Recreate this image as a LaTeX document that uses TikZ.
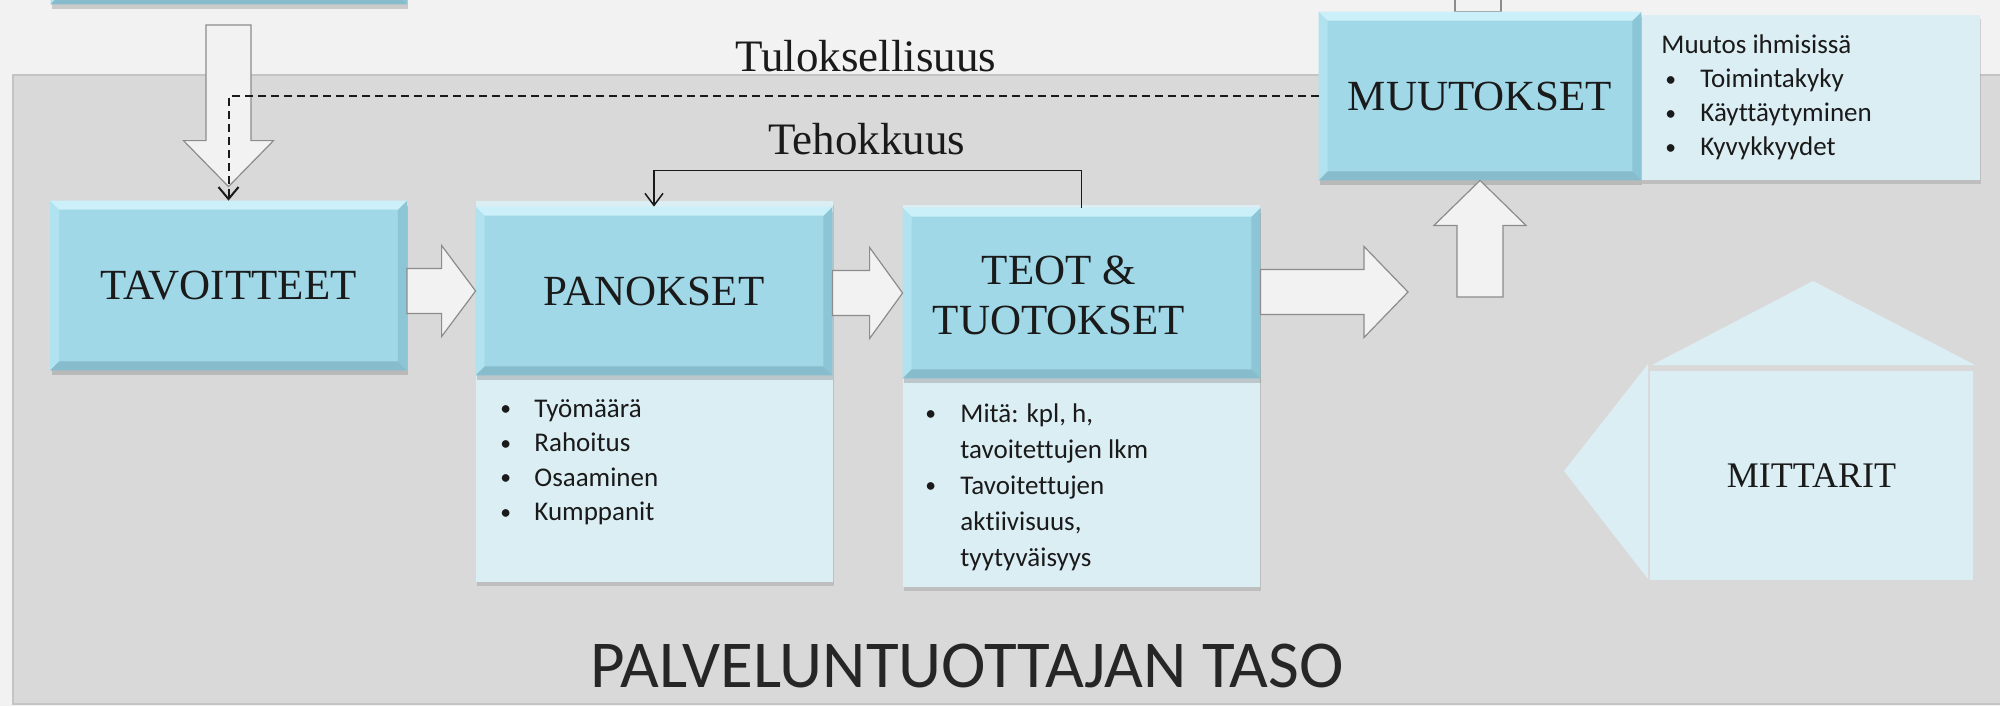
\documentclass[tikz,border=0pt]{standalone}
\usepackage{fontspec}
\usepackage{graphicx}
\setmainfont{Liberation Serif}
\newfontfamily\calibri[Ligatures={NoCommon}]{Carlito}
\usetikzlibrary{calc,shadows,arrows.meta}
\definecolor{bgtop}{HTML}{F2F2F2}
\definecolor{region}{HTML}{D9D9D9}
\definecolor{regionedge}{HTML}{C4C4C4}
\definecolor{boxblue}{HTML}{A0D8E8}
\definecolor{bevtop}{HTML}{CBF0F9}
\definecolor{bevleft}{HTML}{B0E2EF}
\definecolor{bevright}{HTML}{8CC6D6}
\definecolor{bevbot}{HTML}{86BCCB}
\definecolor{panel}{HTML}{DBEEF4}
\definecolor{arrowfill}{HTML}{F2F2F2}
\definecolor{arrowedge}{HTML}{8C8C8C}
\definecolor{ink}{HTML}{1A1A1A}
\tikzset{
  bluebox/.style={fill=boxblue, inner sep=0pt, align=center, text=ink,
    font=\fontsize{21.5pt}{25pt}\selectfont,
    drop shadow={shadow xshift=0.5pt, shadow yshift=-2.5pt, opacity=0.35}},
  panelbox/.style={fill=panel, inner sep=0pt,
    drop shadow={shadow xshift=0.5pt, shadow yshift=-2pt, opacity=0.3}},
  blockarrow/.style={fill=arrowfill, draw=arrowedge, line width=0.6pt, line join=miter},
  listtext/.style={inner sep=0pt, anchor=base west, text=ink},
  titletext/.style={inner sep=0pt, anchor=base, text=ink, font=\fontsize{22.5pt}{26pt}\selectfont},
}
\newcommand\blt{\raisebox{0.6pt}{\scalebox{0.8}{•}}}
\newcommand\boxbevel[1]{%
  \fill[bevleft] (#1.north west) -- ([xshift=4.5pt,yshift=-4.5pt]#1.north west) -- ([xshift=4.5pt,yshift=4.5pt]#1.south west) -- (#1.south west) -- cycle;
  \fill[bevright] (#1.north east) -- ([xshift=-4.5pt,yshift=-4.5pt]#1.north east) -- ([xshift=-4.5pt,yshift=4.5pt]#1.south east) -- (#1.south east) -- cycle;
  \fill[bevtop] (#1.north west) -- (#1.north east) -- ([xshift=-4.5pt,yshift=-4.5pt]#1.north east) -- ([xshift=4.5pt,yshift=-4.5pt]#1.north west) -- cycle;
  \fill[bevbot] (#1.south west) -- (#1.south east) -- ([xshift=-4.5pt,yshift=4.5pt]#1.south east) -- ([xshift=4.5pt,yshift=4.5pt]#1.south west) -- cycle;
}
\newcommand\hblock[3]{%
  \draw[blockarrow] let \p1=(#1), \p2=(#2) in
    ({\x1},{\y2+11.25pt}) -- ({\x2-#3},{\y2+11.25pt}) -- ({\x2-#3},{\y2+22.75pt}) -- (\p2)
    -- ({\x2-#3},{\y2-22.75pt}) -- ({\x2-#3},{\y2-11.25pt}) -- ({\x1},{\y2-11.25pt}) -- cycle;
}
\newcommand\vblock[5]{%
  \draw[blockarrow] let \p1=(#1), \p2=(#2) in
    ({\x2-#3},{\y1}) -- ({\x2-#3},{\y2-(#5)}) -- ({\x2-#4},{\y2-(#5)}) -- (\p2)
    -- ({\x2+#4},{\y2-(#5)}) -- ({\x2+#3},{\y2-(#5)}) -- ({\x2+#3},{\y1}) -- cycle;
}
\begin{document}
\begin{tikzpicture}[x=0.5pt,y=-0.5pt]
\useasboundingbox (0,0) rectangle (2000,706);
\fill[bgtop] (0,0) rectangle (2000,706);
% service-provider region
\draw[fill=region, draw=regionedge, line width=0.8pt] (13,75) rectangle (2010,704);

% top box fragment (cut by page edge)
\node[bluebox, minimum width=178pt, minimum height=52pt] (topbox) at (229,-48) {};
\boxbevel{topbox}

% panels
\node[panelbox, minimum width=178.5pt, minimum height=190.5pt] (panpanel) at (654.5,391.5) {};
\node[panelbox, minimum width=178.5pt, minimum height=191pt] (teotpanel) at (1081.5,396) {};
\node[panelbox, minimum width=169.5pt, minimum height=82.5pt] (mutpanel) at (1810.5,97.5) {};

% shaft going up from MUUTOKSET
\coordinate (mutup) at (1480,12);
\draw[blockarrow] ($(mutup)+(-25,-40)$) rectangle ($(mutup)+(21,0)$);

% blue boxes
\node[bluebox, minimum width=178pt, minimum height=84.5pt] (tav) at (228.5,285.5) {TAVOITTEET};
\boxbevel{tav}
\node[bluebox, minimum width=178pt, minimum height=84pt] (pan) at (654,291) {PANOKSET};
\boxbevel{pan}
\node[bluebox, minimum width=178.5pt, minimum height=85pt] (teot) at (1081.5,293) {};
\boxbevel{teot}
\node[inner sep=0pt, align=center, text=ink, font=\fontsize{21.5pt}{25pt}\selectfont] (teotlbl) at (1059,295) {TEOT \&\\TUOTOKSET};
\node[bluebox, minimum width=161pt, minimum height=84pt] (mut) at (1480,96) {MUUTOKSET};
\boxbevel{mut}

% block arrows
\coordinate (downtop) at (228.5,25);
\coordinate (downtip) at ($(tav.north)+(0,-14)$);
\vblock{downtop}{downtip}{11.25pt}{22.5pt}{-23pt}
\hblock{tav.east}{pan.west}{17pt}
\hblock{pan.east}{teot.west}{16.5pt}
\coordinate (outtip) at (1408,292);
\hblock{teot.east}{outtip}{22pt}
\coordinate (upbase) at (1478,297);
\vblock{upbase}{mut.south}{11.5pt}{23pt}{22.5pt}

% feedback lines
\draw[ink, line width=1pt, dash pattern=on 4pt off 2.5pt, -{Straight Barb[length=6pt,width=10pt]}] (mut.west) -| (tav.north);
\draw[ink, line width=0.75pt, -{Straight Barb[length=6pt,width=9pt]}] (teot.north) -- ++(0,-37) -| (pan.north);

% labels
\node[titletext] (tulos) at (866,72) {Tuloksellisuus};
\node[titletext] (teho) at (867,155) {Tehokkuus};

% lists
\node[listtext, font=\calibri\fontsize{13.5pt}{17.25pt}\selectfont] (panlist) at (500,417)
  {\begin{tabular}[t]{@{}p{17pt}@{}l@{}}\blt&Työmäärä\\\blt&Rahoitus\\\blt&Osaaminen\\\blt&Kumppanit\end{tabular}};
\node[listtext, font=\calibri\fontsize{13.5pt}{18pt}\selectfont] (teotlist) at (925,422)
  {\begin{tabular}[t]{@{}p{17.5pt}@{}l@{}}\blt&Mitä: kpl, h,\\&tavoitettujen lkm\\\blt&Tavoitettujen\\&aktiivisuus,\\&tyytyväisyys\end{tabular}};
\node[listtext, font=\calibri\fontsize{13.5pt}{17pt}\selectfont] (mutlist) at (1661,54)
  {\begin{tabular}[t]{@{}p{19.5pt}@{}l@{}}\multicolumn{2}{@{}l@{}}{Muutos ihmisissä}\\\hspace*{2pt}\blt&Toimintakyky\\\hspace*{2pt}\blt&Käyttäytyminen\\\hspace*{2pt}\blt&Kyvykkyydet\end{tabular}};

% MITTARIT shape
\fill[panel] (1652,365) -- (1813,281) -- (1975,365) -- cycle;
\fill[panel] (1648,364) -- (1564,471) -- (1648,579) -- cycle;
\node[fill=panel, inner sep=0pt, minimum width=161.5pt, minimum height=104.5pt, text=ink,
  font=\fontsize{18pt}{20pt}\selectfont] (mit) at (1811.5,475.5) {MITTARIT};

% level title
\node[inner sep=0pt, anchor=base, text=black!85, font=\calibri\fontsize{33.5pt}{36pt}\selectfont] (taso) at (967,687) {PALVELUNTUOTTAJAN TASO};
\end{tikzpicture}
\end{document}
